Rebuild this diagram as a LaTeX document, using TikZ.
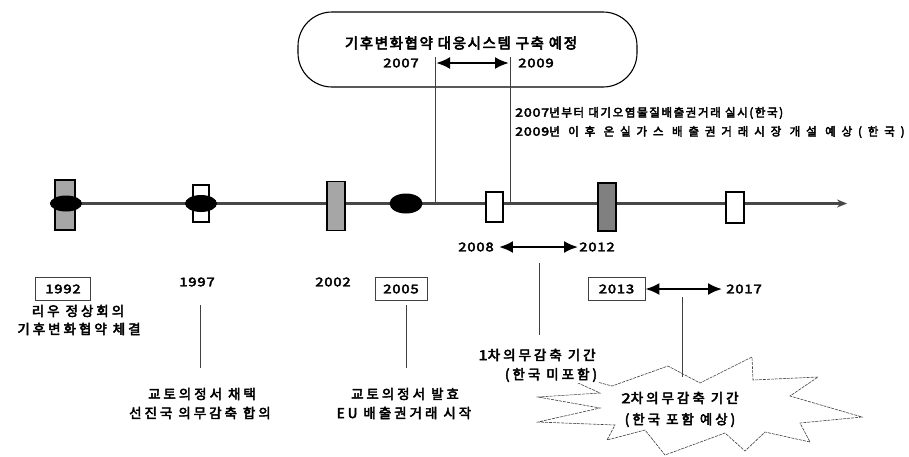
\documentclass[tikz,border=0pt]{standalone}
\usepackage{fontspec}
\usetikzlibrary{arrows.meta,shapes.geometric}
\newfontfamily\krTitle[LetterSpace=11,FakeBold=4]{Noto Sans CJK KR}
\newfontfamily\krRightA[LetterSpace=14,FakeBold=3.5]{Noto Sans CJK KR}
\newfontfamily\krRightB[LetterSpace=51,FakeBold=3.5]{Noto Sans CJK KR}
\newfontfamily\krLab[LetterSpace=22,FakeBold=3.5]{Noto Sans CJK KR}
\newfontfamily\krDigit[FakeStretch=1.25,LetterSpace=6,FakeBold=3.5]{Noto Sans CJK KR}
\newcommand\myyr[1]{{\krDigit #1}}
\tikzset{
  tline/.style={line width=2.4pt, black!72},
  graybar/.style={rectangle, draw=black, line width=1.8pt, fill=black!35, inner sep=0pt},
  whitebar/.style={rectangle, draw=black, line width=1.6pt, fill=white, inner sep=0pt},
  blackoval/.style={ellipse, fill=black, inner sep=0pt},
  thinln/.style={line width=0.6pt, black!75},
  yrbox/.style={rectangle, draw=black!75, line width=0.6pt, minimum width=55pt, minimum height=23pt, inner sep=0pt, font=\krDigit\fontsize{12}{14}\selectfont},
  yrtxt/.style={inner sep=0pt, font=\krDigit\fontsize{12}{14}\selectfont},
  dbl/.style={{Latex[length=14pt,width=12pt]}-{Latex[length=14pt,width=12pt]}, line width=2.4pt},
  lab/.style={inner sep=0pt, font=\krLab\fontsize{13.5}{15}\selectfont},
  rlab/.style={inner sep=0pt, anchor=west},
}
\begin{document}
\begin{tikzpicture}[x=1pt,y=-1pt]
\useasboundingbox (0,0) rectangle (909,456);

% top rounded box
\node[draw, rounded corners=34pt, line width=1.1pt, minimum width=339pt, minimum height=75pt, inner sep=0pt] (topbox) at (467.5,49.5) {};
\node[inner sep=0pt, font=\krTitle\fontsize{14.5}{16}\selectfont] (title) at (461,43) {기후변화협약 대응시스템 구축 예정};
\node[yrtxt] (y2007t) at (401,63) {2007};
\node[yrtxt] (y2009t) at (536,63) {2009};

% coordinates
\coordinate (tl0) at (50,203.5);
\coordinate (tl1) at (847,203.5);
\coordinate (v7a) at (435,57);
\coordinate (v7b) at (435,203.5);
\coordinate (v9a) at (510,57);
\coordinate (v9b) at (510,203.5);
\coordinate (a7) at (436,63);
\coordinate (a9) at (509,63);

% vertical lines from top box
\draw[thinln] (v7a) -- (v7b);
\draw[thinln] (v9a) -- (v9b);
\draw[dbl] (a7) -- (a9);

% right texts
\node[rlab, font=\krRightA\fontsize{11.5}{13}\selectfont] (r1) at (515,113) {\myyr{2007}년부터 대기오염물질배출권거래 실시(한국)};
\node[rlab, font=\krRightB\fontsize{11.5}{13}\selectfont] (r2) at (515,132) {\myyr{2009}년 이후 온실가스 배출권거래시장 개설 예상(한국)};

% timeline
\draw[tline, -{Stealth[length=10pt,width=8pt]}] (tl0) -- (tl1);

% markers
\node[graybar, minimum width=20pt, minimum height=50pt] (m92r) at (65,205) {};
\node[blackoval, minimum width=32pt, minimum height=16pt] (m92e) at (66,203.5) {};
\node[whitebar, minimum width=16pt, minimum height=37pt] (m97r) at (201,203.5) {};
\node[blackoval, minimum width=32pt, minimum height=17pt] (m97e) at (201,203.5) {};
\node[graybar, minimum width=18pt, minimum height=49pt] (m02) at (336,206) {};
\node[blackoval, minimum width=33pt, minimum height=20pt] (m05) at (406,203.5) {};
\node[whitebar, minimum width=17pt, minimum height=30pt] (m08) at (494.5,207) {};
\node[graybar, line width=2.4pt, fill=black!50, minimum width=18pt, minimum height=48pt] (m13) at (607,207) {};
\node[whitebar, minimum width=18pt, minimum height=31pt] (m17) at (735,207.5) {};

% 2008 - 2012
\node[yrtxt] (y2008) at (476,247) {2008};
\node[yrtxt] (y2012) at (597,247) {2012};
\draw[dbl] ([xshift=5pt]y2008.east) -- ([xshift=-1pt]y2012.west);
\coordinate (v08a) at (539,263);
\coordinate (v08b) at (539,335);
\draw[thinln] (v08a) -- (v08b);

% years row
\node[yrbox] (y1992) at (63,289) {1992};
\node[yrtxt] (y1997) at (197,282) {1997};
\node[yrtxt] (y2002) at (333,282) {2002};
\node[yrbox, minimum width=52pt] (y2005) at (401,289) {2005};
\node[yrbox, minimum width=57pt] (y2013) at (616.5,289) {2013};
\node[yrtxt] (y2017) at (744,289) {2017};
\draw[dbl] (y2013.east) -- ([xshift=-4pt]y2017.west);

% labels
\node[lab] (l92a) at (78,311) {리우 정상회의};
\node[lab] (l92b) at (79,329) {기후변화협약 체결};

\coordinate (v97a) at (200,305);
\coordinate (v97b) at (200,368);
\draw[thinln] (v97a) -- (v97b);
\node[lab] (l97a) at (202,394) {교토의정서 채택};
\node[lab] (l97b) at (200,413) {선진국 의무감축 합의};

\coordinate (v05a) at (406,305);
\coordinate (v05b) at (406,368);
\draw[thinln] (v05a) -- (v05b);
\node[lab] (l05a) at (405,394) {교토의정서 발효};
\node[lab] (l05b) at (404,413) {EU 배출권거래 시작};

% starburst
\draw[line width=0.6pt, black!75, fill=white, dash pattern=on 3pt off 1pt]
  (545,368) -- (612,386) -- (668,366) -- (700,383) -- (752,357) -- (753,380)
  -- (818,377) -- (790,396) -- (862,417) -- (800,423) -- (810,442) -- (765,432)
  -- (745,451) -- (725,433) -- (665,455) -- (645,430) -- (607,440) -- (615,425)
  -- (538,422) -- (600,408) -- (538,397) -- (600,393) -- cycle;
\coordinate (v13a) at (682,297);
\coordinate (v13b) at (682,377);
\draw[thinln] (v13a) -- (v13b);

\node[lab] (l08a) at (537,355) {\myyr{1}차의무감축 기간};
\node[lab, fill=white, inner sep=1pt] (l08b) at (551,375) {(한국 미포함)};
\node[lab] (l13a) at (680,398) {\myyr{2}차의무감축 기간};
\node[lab] (l13b) at (680,420) {(한국 포함 예상)};
\end{tikzpicture}
\end{document}
